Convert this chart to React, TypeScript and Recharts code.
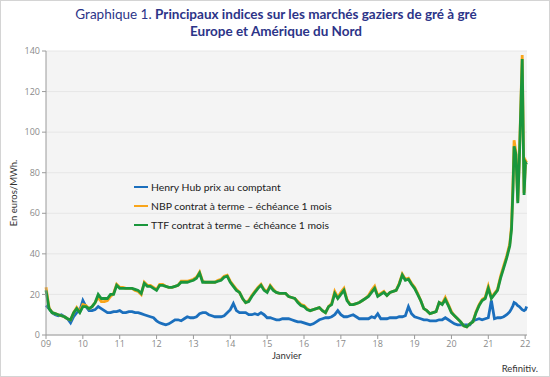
import React from "react";
import { LineChart, Line, XAxis, YAxis, CartesianGrid } from "recharts";

// x axis: one tick per January, labelled with two digits
const yearTicks = [2009, 2010, 2011, 2012, 2013, 2014, 2015, 2016, 2017, 2018, 2019, 2020, 2021, 2022];
const yearLabels = ["09", "10", "11", "12", "13", "14", "15", "16", "17", "18", "19", "20", "21", "22"];
const valueTicks = [0, 20, 40, 60, 80, 100, 120, 140];

// monthly readings, Jan 2009 to Jun 2021 (euros/MWh)
const henryHubMonthly = [
    14.5, 13, 11, 10, 9.5, 10, 9, 8, 6, 9, 11, 12,
    17, 14, 12, 12, 12.5, 14, 13, 12, 11, 11, 11.5, 11.5,
    12, 11, 11, 11.5, 11.5, 11, 11, 10.5, 10, 9.5, 9, 8.5,
    7, 6, 5.5, 5, 5.5, 6.5, 7.5, 7.5, 7, 8, 9, 8.5,
    8.5, 9, 10.5, 11, 11, 10, 9.5, 9, 9, 9, 9.5, 11,
    12.5, 15.5, 12, 11, 11, 11, 10, 10, 10.5, 10, 11, 10,
    8.5, 8.5, 8, 7.5, 7.5, 8, 8, 8, 7.5, 7, 6.5, 6.5,
    6, 5.5, 5, 5.5, 6.5, 7.5, 8, 8.5, 8.5, 9, 10, 12,
    10, 9, 9, 9.5, 10, 9, 8, 8, 8, 8, 9, 8.5,
    10.5, 8, 8, 8, 8.5, 8.5, 8.5, 9, 9, 9.5, 14, 10.5,
    9, 8.5, 8, 7.5, 7.5, 7, 7, 7, 7.5, 7.5, 8.5, 7.5,
    6.5, 5.5, 5, 5, 5, 5, 5, 7, 7.5, 8, 7.5, 8,
    8.5, 17, 8, 8.5, 8.5, 9,
];
const nbpMonthly = [
    23.5, 13.5, 11, 10.5, 10, 9.5, 9, 8, 7.5, 11, 13.5, 11.5,
    15, 14.5, 13, 14, 16, 18.5, 16.5, 16.5, 17, 19, 20.5, 25,
    23.5, 23.5, 23, 23, 23, 22, 21.5, 20, 26, 24.5, 24.5, 23.5,
    22.5, 25, 25, 24, 23.5, 23.5, 24, 24.5, 26.5, 26.5, 26.5, 27,
    27.5, 28.5, 31, 26.5, 26, 26, 26, 26, 27, 27.5, 29, 29.5,
    26.5, 24.5, 22.5, 21, 18, 16, 17, 19.5, 21.5, 23.5, 25, 22.5,
    21.5, 24.5, 22.5, 21, 20.5, 20.5, 20.5, 19, 18.5, 18, 16.5, 15,
    14.5, 13, 12, 12.5, 13, 13.5, 12, 11, 14, 15.5, 21.5, 18.5,
    21, 23, 17.5, 15, 15, 15.5, 16, 17, 18, 19.5, 22, 24,
    19.5, 20.5, 21.5, 19.5, 21, 21.5, 22, 25.5, 30, 27.5, 28, 25.5,
    23.5, 20.5, 17, 13, 12, 10.5, 11, 11.5, 16, 15.5, 18.5, 15,
    11.5, 9.5, 8, 6.5, 4.5, 4, 5.5, 6.5, 11.5, 15, 17.5, 18.5,
    24, 18.5, 20.5, 22.5, 29, 34,
];
const ttfMonthly = [
    22, 13, 11, 10.5, 10, 9.5, 9, 8, 7.5, 11, 13, 11,
    14, 14, 13, 14, 16, 20, 18, 18, 18, 20, 20, 24.5,
    23, 23, 23, 23, 23, 22.5, 22, 20.5, 25.5, 24, 24, 23,
    22, 24.5, 24.5, 24, 23.5, 23.5, 24, 24.5, 26, 26, 26, 26.5,
    27, 28, 30.5, 26, 26, 26, 26, 26, 26.5, 27, 28.5, 29,
    26, 24, 22, 21, 18, 16, 16.5, 19, 21, 23, 24.5, 22,
    21, 24, 22, 21, 20.5, 20.5, 20.5, 19, 18.5, 18, 16, 14.5,
    14, 12.5, 12, 12.5, 13, 13.5, 12, 11, 14, 15, 20.5, 18,
    20, 22, 17, 15, 15, 15.5, 16, 17, 18, 19, 21, 23,
    19, 20, 21, 19.5, 21, 21.5, 22, 25, 29.5, 27, 27.5, 25,
    23, 20, 17, 13, 12, 10.5, 11, 11.5, 16, 15, 17.5, 14.5,
    11, 9.5, 8, 6.5, 4.5, 4, 5.5, 6.5, 11, 14.5, 17, 18,
    23, 18, 20, 22, 28, 33,
];

// from July 2021 the curves move fast, readings at irregular dates
const tailDates = [2021.5, 2021.583, 2021.63, 2021.67, 2021.7, 2021.75, 2021.8, 2021.84, 2021.92, 2021.97, 2022.01, 2022.04];
const henryHubTail = [10, 11.5, 13, 14.5, 16, 15.5, 14.5, 14, 12.5, 12, 12.5, 14];
const nbpTail = [39, 45, 54, 75, 96, 90, 66, 86, 138, 70, 86, 85];
const ttfTail = [38, 44, 52, 72, 93, 89, 65, 85, 136, 69, 85, 84];

const monthDates = henryHubMonthly.map((_, i) => 2009 + i / 12);

const data = [
    ...monthDates.map((t, i) => ({ t, hh: henryHubMonthly[i], nbp: nbpMonthly[i], ttf: ttfMonthly[i] })),
    ...tailDates.map((t, i) => ({ t, hh: henryHubTail[i], nbp: nbpTail[i], ttf: ttfTail[i] })),
];

const BLUE = "#1b6fbd";
const ORANGE = "#f9a51a";
const GREEN = "#1a963c";

const legendItems = [
    { label: "Henry Hub prix au comptant", color: BLUE },
    { label: "NBP contrat à terme – échéance 1 mois", color: ORANGE },
    { label: "TTF contrat à terme – échéance 1 mois", color: GREEN },
];

const tickStyle = { fontSize: 9, fill: "#8a8a8a", fontFamily: "'Open Sans', sans-serif" };

export default function App() {
    return (
        <div
            style={{
                position: "absolute",
                left: 0,
                top: 0,
                width: 550,
                height: 377,
                background: "#fff",
                fontFamily: "Lato, sans-serif",
            }}
        >
            <div
                style={{
                    position: "absolute",
                    inset: 0,
                    border: "1.5px solid #d4d4d4",
                    boxSizing: "border-box",
                }}
            />
            <div
                style={{
                    position: "absolute",
                    left: 0,
                    top: 6,
                    width: 552,
                    textAlign: "center",
                    color: "#2c3488",
                    fontSize: 13.5,
                    lineHeight: "17px",
                }}
            >
                Graphique 1. <b>Principaux indices sur les marchés gaziers de gré à gré</b>
                <br />
                <b>Europe et Amérique du Nord</b>
            </div>

            <LineChart width={550} height={377} data={data} margin={{ top: 51, right: 23, bottom: 22, left: 10 }}>
                <CartesianGrid vertical={false} fill="#f4f4f4" stroke="#e6e6e6" />
                <XAxis
                    dataKey="t"
                    type="number"
                    domain={[2009, 2022.05]}
                    ticks={yearTicks}
                    tickFormatter={(v: number) => yearLabels[yearTicks.indexOf(v)] ?? ""}
                    tick={tickStyle}
                    tickSize={4}
                    stroke="#9a9a9a"
                    height={20}
                    interval={0}
                />
                <YAxis
                    domain={[0, 140]}
                    ticks={valueTicks}
                    tick={tickStyle}
                    tickSize={4}
                    stroke="#9a9a9a"
                    width={36}
                    interval={0}
                />
                <Line dataKey="hh" stroke={BLUE} strokeWidth={2.8} dot={false} isAnimationActive={false} />
                <Line dataKey="nbp" stroke={ORANGE} strokeWidth={2.8} dot={false} isAnimationActive={false} />
                <Line dataKey="ttf" stroke={GREEN} strokeWidth={2.8} dot={false} isAnimationActive={false} />
            </LineChart>

            <div style={{ position: "absolute", left: 134, top: 177 }}>
                {legendItems.map((it) => (
                    <div key={it.label} style={{ display: "flex", alignItems: "center", height: 19 }}>
                        <span style={{ width: 14, height: 2, background: it.color, marginRight: 3 }} />
                        <span style={{ fontSize: 10.4, color: "#222" }}>{it.label}</span>
                    </div>
                ))}
            </div>

            <div
                style={{
                    position: "absolute",
                    left: 13,
                    top: 193,
                    transform: "translate(-50%, -50%) rotate(-90deg)",
                    fontSize: 9.5,
                    color: "#333",
                    whiteSpace: "nowrap",
                }}
            >
                En euros/MWh.
            </div>
            <div style={{ position: "absolute", left: 272, top: 350, fontSize: 9.5, color: "#333" }}>Janvier</div>
            <div style={{ position: "absolute", right: 12, top: 363, fontSize: 9.5, color: "#333" }}>Refinitiv.</div>
        </div>
    );
}
